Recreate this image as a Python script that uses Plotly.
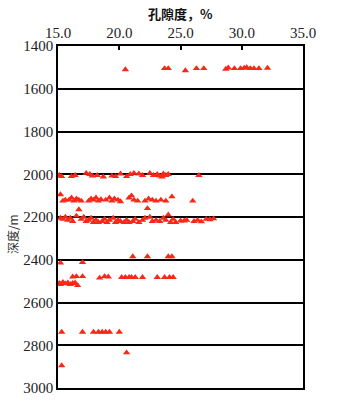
import plotly.graph_objects as go

x_ticks = [15, 20, 25, 30, 35]
x_tick_labels = ["15.0", "20.0", "25.0", "30.0", "35.0"]
y_ticks = [1400, 1600, 1800, 2000, 2200, 2400, 2600, 2800, 3000]

porosity_1500 = [20.5, 23.7, 24.0, 25.4, 26.3, 26.9, 28.7, 28.9, 29.4, 29.9, 30.2, 30.4, 30.7, 31.0, 31.4, 32.1]
depth_1500 = [1510, 1505, 1505, 1515, 1505, 1505, 1508, 1502, 1505, 1505, 1503, 1500, 1505, 1505, 1505, 1503]

porosity_2000 = [15.1, 15.3, 16.1, 16.4, 17.3, 17.6, 17.8, 18.2, 18.7, 19.4, 19.7, 20.1, 20.6, 20.9, 21.2, 21.6, 21.9, 22.5, 22.8, 23.1, 23.3, 23.6, 23.8, 24.0, 23.5, 26.5]
depth_2000 = [2005, 2010, 2010, 2005, 1995, 2000, 2008, 2005, 2012, 2008, 2010, 1998, 2010, 2000, 1995, 1998, 2005, 1995, 2005, 2000, 2008, 1998, 2005, 2000, 2012, 2005]

porosity_2120 = [15.2, 15.4, 15.6, 15.9, 16.1, 16.3, 16.5, 16.7, 16.9, 17.5, 17.7, 17.9, 18.1, 18.3, 18.5, 18.9, 19.2, 19.4, 19.6, 19.9, 20.1, 20.8, 21.0, 21.2, 21.5, 22.1, 22.4, 22.7, 23.0, 23.4, 23.8, 24.3, 26.0]
depth_2120 = [2095, 2125, 2120, 2120, 2110, 2125, 2115, 2120, 2125, 2125, 2115, 2120, 2110, 2125, 2118, 2120, 2110, 2125, 2115, 2120, 2128, 2110, 2100, 2120, 2125, 2125, 2115, 2120, 2125, 2120, 2125, 2105, 2125]

porosity_2210 = [15.2, 15.4, 15.6, 15.8, 16.0, 16.2, 16.5, 16.7, 16.9, 17.1, 17.3, 17.5, 17.7, 17.9, 18.1, 18.3, 18.6, 18.8, 19.0, 19.2, 19.5, 19.7, 19.9, 20.1, 20.4, 20.6, 20.8, 21.1, 21.3, 21.6, 21.9, 22.1, 22.3, 22.5, 22.7, 23.0, 23.3, 23.6, 23.8, 24.0, 24.2, 24.4, 24.6, 25.0, 25.3, 25.5, 26.1, 26.4, 26.7, 27.1, 27.4, 27.7]
depth_2210 = [2205, 2210, 2200, 2215, 2205, 2220, 2195, 2165, 2210, 2200, 2220, 2215, 2205, 2225, 2215, 2225, 2220, 2210, 2225, 2215, 2205, 2225, 2215, 2220, 2225, 2215, 2225, 2220, 2210, 2225, 2215, 2205, 2160, 2200, 2220, 2215, 2220, 2205, 2215, 2190, 2225, 2210, 2225, 2218, 2218, 2215, 2220, 2215, 2222, 2210, 2212, 2208]

porosity_2450 = [21.1, 22.3, 24.0, 24.3, 15.2, 17.0, 16.2, 16.5, 17.0, 18.4, 18.8, 19.1, 20.2, 20.5, 20.8, 21.0, 21.3, 21.9, 23.1, 23.7, 24.1, 24.4, 15.1, 15.2, 15.4, 15.6, 15.8, 16.0, 16.2, 16.4, 16.6]
depth_2450 = [2385, 2385, 2385, 2385, 2415, 2412, 2480, 2478, 2478, 2485, 2478, 2480, 2482, 2482, 2482, 2482, 2482, 2482, 2482, 2482, 2482, 2482, 2510, 2515, 2505, 2512, 2508, 2515, 2510, 2508, 2520]

porosity_2800 = [15.3, 17.0, 17.9, 18.3, 18.6, 18.9, 19.2, 20.0, 20.6, 15.3]
depth_2800 = [2738, 2738, 2738, 2738, 2738, 2738, 2738, 2738, 2835, 2895]

porosity = porosity_1500 + porosity_2000 + porosity_2120 + porosity_2210 + porosity_2450 + porosity_2800
depth = depth_1500 + depth_2000 + depth_2120 + depth_2210 + depth_2450 + depth_2800

fig = go.Figure()
fig.add_trace(go.Scatter(
    x=porosity, y=depth, mode="markers",
    marker=dict(symbol="triangle-up", size=6.5, color="#f82818", line=dict(width=0)),
    cliponaxis=False, showlegend=False,
))

serif = "Liberation Serif"
fig.update_layout(
    width=344, height=408,
    margin=dict(l=58, r=41, t=46, b=12),
    paper_bgcolor="white", plot_bgcolor="white",
    font=dict(family=serif),
    xaxis=dict(
        side="top", range=[15, 35], tickvals=x_ticks, ticktext=x_tick_labels,
        ticks="inside", ticklen=4, tickcolor="black", tickwidth=1.5,
        showgrid=False, zeroline=False,
        showline=True, linecolor="black", linewidth=1.5, mirror=True,
        tickfont=dict(family=serif, size=15, color="#222"),
    ),
    yaxis=dict(
        range=[3000, 1400], tickvals=y_ticks,
        ticks="", showgrid=True, gridcolor="black", gridwidth=1.5,
        zeroline=False,
        showline=True, linecolor="black", linewidth=1.5, mirror=True,
        tickfont=dict(family=serif, size=15, color="#222"),
    ),
    annotations=[
        dict(text="<b>孔隙度，%</b>", x=0.5, y=1, xref="paper", yref="paper",
             yshift=33, showarrow=False, xanchor="center", yanchor="middle",
             font=dict(family="Noto Sans CJK SC", size=13, color="#111")),
        dict(text="深度/m", x=0, y=0.45, xref="paper", yref="paper",
             xshift=-46, showarrow=False, textangle=-90, xanchor="center", yanchor="middle",
             font=dict(family="Noto Sans CJK SC", size=12, color="#333")),
    ],
)

fig.write_html("out.html", config={"displayModeBar": False},
               post_script="document.body.style.margin='0';")
